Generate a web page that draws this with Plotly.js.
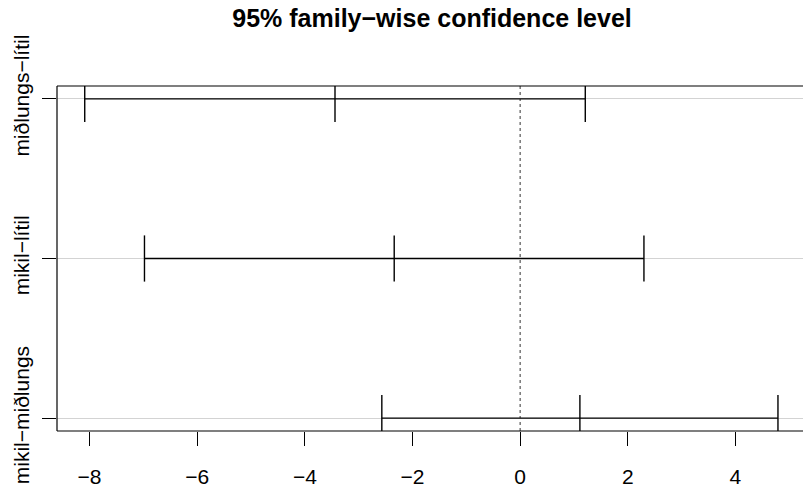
<!DOCTYPE html>
<html>
<head>
<meta charset="utf-8">
<script src="https://cdn.plot.ly/plotly-3.0.1.min.js"></script>
<style>
html,body{margin:0;padding:0;overflow:hidden;background:#fff;}
#chart{width:803px;height:490px;}
</style>
</head>
<body>
<div id="chart"></div>
<script>
// Tukey HSD comparisons (top to bottom)
const comparisons = ["miðlungs−lítil", "mikil−lítil", "mikil−miðlungs"];
const diffVals = [-3.44, -2.34, 1.11];
const lwrVals  = [-8.09, -6.98, -2.57];
const uprVals  = [1.21, 2.30, 4.79];
const xTickVals = [-8, -6, -4, -2, 0, 2, 4];
const titleText = "95% family−wise confidence level";

const k = comparisons.length;
const yVals = comparisons.map((_, i) => k - i);

const FONT = "Liberation Sans, Arial, Helvetica, sans-serif";

const traces = comparisons.map((c, i) => ({
  type: "scatter",
  mode: "lines+markers",
  x: [lwrVals[i], diffVals[i], uprVals[i]],
  y: [yVals[i], yVals[i], yVals[i]],
  line: {color: "#000", width: 1.3},
  marker: {symbol: "line-ns", size: 33, color: "#000", line: {color: "#000", width: 1.4}},
  cliponaxis: true,
  hoverinfo: "skip",
  showlegend: false,
  name: c
}));

const allX = lwrVals.concat(uprVals);
const xmin = Math.min(...allX), xmax = Math.max(...allX);
const xpad = (xmax - xmin) * 0.04;
const ymin = Math.min(...yVals), ymax = Math.max(...yVals);
const ypad = (ymax - ymin) * 0.04;

const boxLine = {color: "#000", width: 1.2};

const layout = {
  width: 803,
  height: 490,
  margin: {l: 57, r: 0, t: 86, b: 59},
  paper_bgcolor: "#fff",
  plot_bgcolor: "#fff",
  font: {family: FONT, size: 21, color: "#000"},
  title: {
    text: "<b>" + titleText + "</b>",
    font: {family: FONT, size: 25, color: "#000"},
    x: 432 / 803, xref: "container", xanchor: "center",
    y: 0.963, yref: "container", yanchor: "middle"
  },
  xaxis: {
    range: [xmin - xpad, xmax + xpad - 0.05],
    tickvals: xTickVals,
    ticktext: xTickVals.map(v => v < 0 ? "−" + Math.abs(v) : String(v)),
    ticks: "outside", ticklen: 14, tickwidth: 1.2, tickcolor: "#000",
    showgrid: false, zeroline: false, showline: false,
    tickfont: {family: FONT, size: 21, color: "#000"},
    ticklabelstandoff: 13
  },
  yaxis: {
    range: [ymin - ypad, ymax + ypad],
    tickvals: yVals,
    ticktext: comparisons,
    tickangle: -90,
    ticks: "outside", ticklen: 14, tickwidth: 1.2, tickcolor: "#000",
    showgrid: true, gridcolor: "#d3d3d3", gridwidth: 1,
    zeroline: false, showline: false,
    tickfont: {family: FONT, size: 21, color: "#000"},
    ticklabelstandoff: 5
  },
  shapes: [
    {type: "line", xref: "x", yref: "paper", x0: 0, x1: 0, y0: 0, y1: 1,
     line: {color: "#555", width: 1.2, dash: "dot"}, layer: "below"},
    {type: "line", xref: "paper", yref: "paper", x0: 0, x1: 1.01, y0: 0, y1: 0, line: boxLine},
    {type: "line", xref: "paper", yref: "paper", x0: 0, x1: 1.01, y0: 1, y1: 1, line: boxLine},
    {type: "line", xref: "paper", yref: "paper", x0: 0, x1: 0, y0: 0, y1: 1, line: boxLine}
  ]
};

Plotly.newPlot("chart", traces, layout, {staticPlot: true, displayModeBar: false});
</script>
</body>
</html>
